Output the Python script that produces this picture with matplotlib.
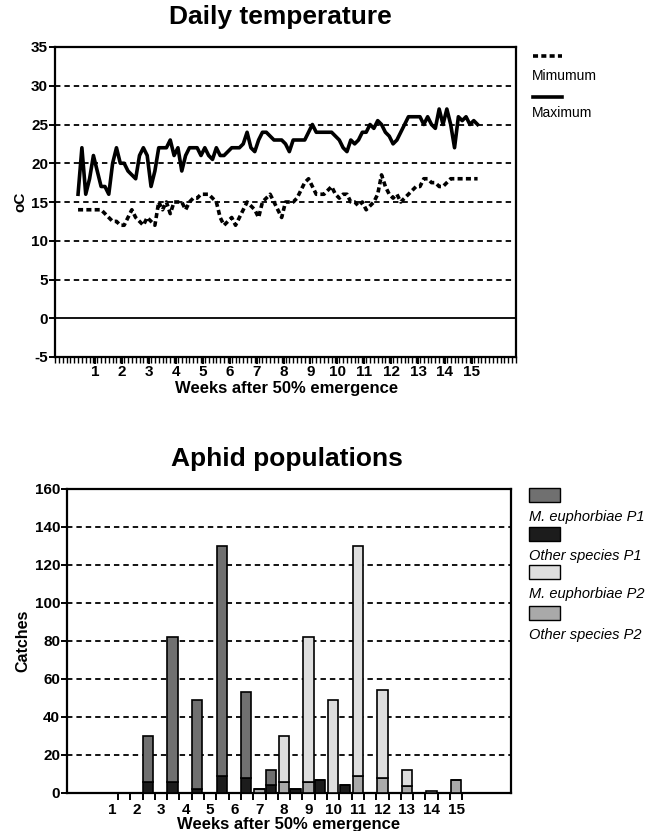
#!/usr/bin/env python3
"""Daily temperature and aphid catches after 50% emergence."""

import matplotlib
matplotlib.use("Agg")
import matplotlib.pyplot as plt
import numpy as np
from matplotlib.lines import Line2D
from matplotlib.patches import Rectangle

plt.rcParams["font.family"] = ["Liberation Sans", "DejaVu Sans"]
plt.rcParams["axes.unicode_minus"] = False

W, H = 655, 831

# daily temperatures, first value is day 6 after start of the axis
FIRST_DAY = 6
MAX_TEMP = [
    16, 22, 16, 18, 21, 19, 17, 17, 16, 20,
    22, 20, 20, 19, 18.5, 18, 21, 22, 21, 17,
    19, 22, 22, 22, 23, 21, 22, 19, 21, 22,
    22, 22, 21, 22, 21, 20.5, 22, 21, 21, 21.5,
    22, 22, 22, 22.5, 24, 22, 21.5, 23, 24, 24,
    23.5, 23, 23, 23, 22.5, 21.5, 23, 23, 23, 23,
    24, 25, 24, 24, 24, 24, 24, 23.5, 23, 22,
    21.5, 23, 22.5, 23, 24, 24, 25, 24.5, 25.5, 25,
    24, 23.5, 22.5, 23, 24, 25, 26, 26, 26, 26,
    25, 26, 25, 24.5, 27, 25, 27, 25, 22, 26,
    25.5, 26, 25, 25.5, 25,
]
MIN_TEMP = [
    14, 14, 14, 14, 14, 14, 14, 13.5, 13, 12.5,
    12.5, 12, 12, 13, 14, 13, 12.5, 12, 13, 12.5,
    12, 15, 14, 15, 13.5, 15, 15, 15, 14, 15,
    15.5, 15.5, 16, 16, 16, 15.5, 15, 13, 12, 12.5,
    13, 12, 13, 14, 15, 14.5, 14, 13, 15, 15.5,
    16, 15, 14, 13, 15, 15, 15, 15.5, 16.5, 17.5,
    18, 17, 16, 16, 16, 16.5, 17, 16, 15.5, 16,
    16, 15, 15, 14.5, 15, 14, 14.5, 15, 16, 18.5,
    17, 16, 15.5, 16, 15, 15.5, 16, 16.5, 17, 17,
    18, 18, 17.5, 17.5, 17, 17, 17.5, 18, 18, 18,
    18, 18, 18, 18, 18,
]
WEEK_LABELS = list(range(1, 16))

# aphid catches per week
WEEKS = np.arange(1, 16)
MEU_P1 = [0, 24, 76, 47, 121, 45, 8, 0, 0, 0, 0, 0, 0, 0, 0]
OTHER_P1 = [0, 6, 6, 2, 9, 8, 4, 2, 7, 4, 0, 0, 0, 0, 0]
MEU_P2 = [0, 0, 0, 0, 0, 0, 0, 24, 76, 49, 121, 46, 8.5, 1, 0]
OTHER_P2 = [0, 0, 0, 0, 0, 0, 2, 6, 6, 0, 9, 8, 3.5, 0, 7]

C_MEU_P1 = "#707070"
C_OTHER_P1 = "#1c1c1c"
C_MEU_P2 = "#dedede"
C_OTHER_P2 = "#a9a9a9"


def fx(x):
    return x / W


def fy(y):
    return 1 - y / H


def style_axes(ax):
    for s in ax.spines.values():
        s.set_linewidth(1.6)
    ax.tick_params(axis="y", direction="out", length=4, width=1.4, labelsize=11, pad=1)
    for lab in ax.get_yticklabels():
        lab.set_fontweight("bold")


fig = plt.figure(figsize=(W / 100, H / 100), dpi=100)

# ---- temperature panel
ax1 = fig.add_axes([fx(55), fy(357), fx(461), 310 / H])
days = np.arange(FIRST_DAY, FIRST_DAY + len(MAX_TEMP))
for v in range(5, 35, 5):
    ax1.axhline(v, color="black", lw=1.3, ls=(0, (3, 2.2)), zorder=1)
ax1.axhline(0, color="black", lw=1.3, zorder=1)
ax1.plot(days, MIN_TEMP, color="black", lw=2.6, ls=(0, (1.4, 0.9)), zorder=3)
ax1.plot(days, MAX_TEMP, color="black", lw=2.6, zorder=3)
ax1.set_xlim(0, 120)
ax1.set_ylim(-5, 35)
ax1.set_yticks(range(-5, 40, 5))
ax1.set_xticks([7 * w + 3.5 for w in WEEK_LABELS])
ax1.set_xticklabels([str(w) for w in WEEK_LABELS], fontweight="bold", fontsize=11)
ax1.set_xticks(np.arange(0, 121, 1), minor=True)
ax1.tick_params(axis="x", which="major", direction="out", length=5, width=1.4, pad=1)
ax1.tick_params(axis="x", which="minor", direction="out", length=4, width=1.0)
style_axes(ax1)
ax1.set_ylabel("oC", fontsize=11, fontweight="bold", labelpad=3)
fig.text(fx(287), fy(389), "Weeks after 50% emergence", ha="center", va="center",
         fontsize=12, fontweight="bold")
fig.text(fx(280), fy(17), "Daily temperature", ha="center", va="center",
         fontsize=19, fontweight="bold")

# legend for temperature
fig.add_artist(Line2D([fx(533), fx(562)], [fy(56), fy(56)], color="black", lw=2.6,
                      ls=(0, (1.4, 0.9)), transform=fig.transFigure))
fig.text(fx(532), fy(76), "Mimumum", fontsize=10, va="center")
fig.add_artist(Line2D([fx(533), fx(562)], [fy(97), fy(97)], color="black", lw=2.6,
                      transform=fig.transFigure))
fig.text(fx(532), fy(113), "Maximum", fontsize=10, va="center")

# ---- aphid panel
ax2 = fig.add_axes([fx(67), fy(793), fx(444), 304 / H])
for v in range(20, 160, 20):
    ax2.axhline(v, color="black", lw=1.3, ls=(0, (3, 2.2)), zorder=1)
bw = 0.42
kw = dict(width=bw, edgecolor="black", linewidth=1.2, zorder=3)
ax2.bar(WEEKS + 0.47, OTHER_P1, color=C_OTHER_P1, **kw)
ax2.bar(WEEKS + 0.47, MEU_P1, bottom=OTHER_P1, color=C_MEU_P1, **kw)
ax2.bar(WEEKS, OTHER_P2, color=C_OTHER_P2, **kw)
ax2.bar(WEEKS, MEU_P2, bottom=OTHER_P2, color=C_MEU_P2, **kw)
ax2.set_xlim(-0.82, 17.23)
ax2.set_ylim(0, 160)
ax2.set_yticks(range(0, 180, 20))
ax2.set_xticks(WEEKS)
ax2.set_xticklabels([str(w) for w in WEEKS], fontweight="bold", fontsize=11)
ax2.set_xticks(np.arange(1.25, 15.3, 0.5), minor=True)
ax2.tick_params(axis="x", which="major", length=0, pad=7)
ax2.tick_params(axis="x", which="minor", direction="out", length=5, width=1.4)
style_axes(ax2)
ax2.set_ylabel("Catches", fontsize=11.5, fontweight="bold", labelpad=3)
fig.text(fx(289), fy(824), "Weeks after 50% emergence", ha="center", va="center",
         fontsize=12, fontweight="bold")
fig.text(fx(287), fy(459), "Aphid populations", ha="center", va="center",
         fontsize=19, fontweight="bold")

# legend for aphids
legend_items = [
    (C_MEU_P1, "M. euphorbiae P1", 488),
    (C_OTHER_P1, "Other species P1", 527),
    (C_MEU_P2, "M. euphorbiae P2", 565),
    (C_OTHER_P2, "Other species P2", 606),
]
for color, label, ytop in legend_items:
    fig.add_artist(Rectangle((fx(529), fy(ytop + 14)), fx(31), 14 / H, facecolor=color,
                             edgecolor="black", linewidth=1.0, transform=fig.transFigure))
    fig.text(fx(529), fy(ytop + 29), label, fontsize=10.5, style="italic", va="center")

fig.savefig("out.png", dpi=100)
